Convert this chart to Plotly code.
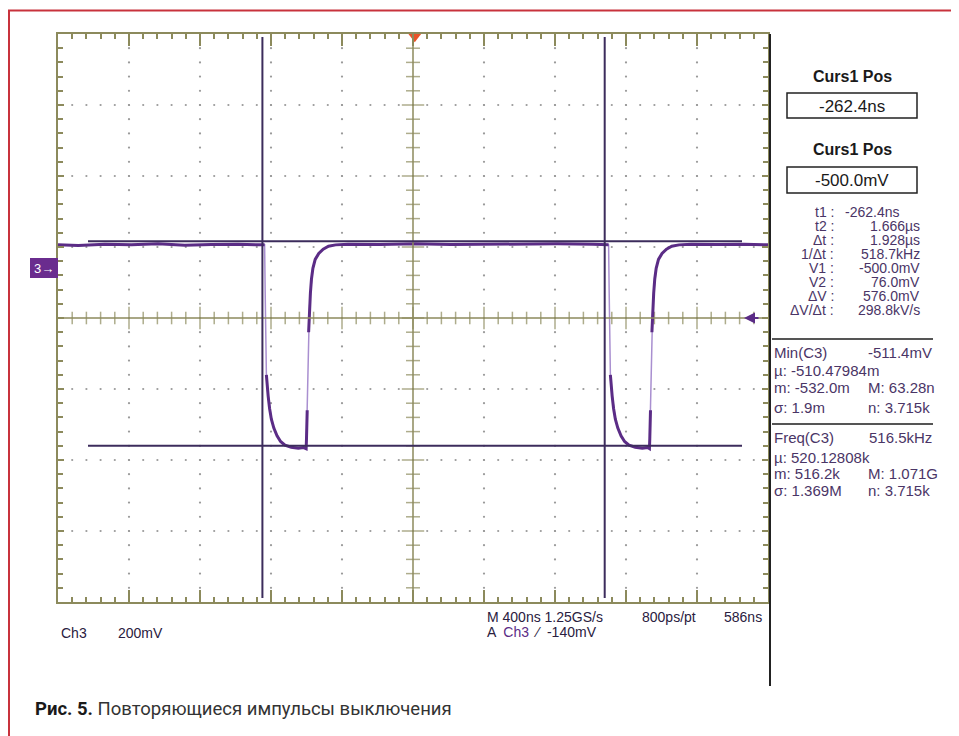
import plotly.graph_objects as go

# ---------------- data ----------------
# Ch3 waveform: time in ns, voltage in mV
t_ns = [-1414, -1300, -1150, -1000, -850, -700, -550, -400, -300, -252,
        -250, -247, -244, -240, -236, -230, -222, -212, -198, -180, -160, -135, -100, -60, -30, -16,
        -14, -10, -6, -2, 2, 8, 14, 22, 35, 55, 80, 110, 150, 220,
        400, 600, 800, 1000, 1200, 1400, 1600, 1685,
        1688, 1691, 1694, 1698, 1702, 1708, 1716, 1726, 1740, 1758, 1778, 1803, 1838, 1878, 1908, 1918,
        1920, 1924, 1928, 1932, 1936, 1942, 1948, 1956, 1969, 1989, 2014, 2044, 2084, 2154,
        2300, 2450, 2586]
v_mv = [66, 64, 68, 66, 69, 65, 67, 68, 66, 67,
        66, -60, -200, -300, -335, -360, -395, -425, -450, -472, -488, -498, -504, -507, -505, -508,
        -480, -400, -280, -180, -120, -70, -30, 0, 25, 42, 54, 62, 66, 68,
        67, 69, 67, 68, 67, 69, 68, 67,
        66, -60, -200, -300, -335, -360, -395, -425, -450, -472, -488, -498, -504, -507, -505, -508,
        -480, -400, -280, -180, -120, -70, -30, 0, 25, 42, 54, 62, 66, 68,
        67, 68, 66]

# cursors
T1_NS, T2_NS = -262.4, 1666.0
V1_MV, V2_MV = -500.0, 76.0

# screen settings
X_RANGE = [-1414, 2586]      # 400 ns/div, 10 div, position 586 ns
Y_RANGE = [-940, 660]        # 200 mV/div, 8 div, offset -140 mV
X_DIV, Y_DIV = 400, 200
TRIG_POS_NS = 596

curs_panel = ["-262.4ns", "-500.0mV"]
readout_labels = ["t1 :", "t2 :", "Δt :", "1/Δt :", "V1 :", "V2 :", "ΔV :", "ΔV/Δt :"]
readout_values = ["-262.4ns", "1.666µs", "1.928µs", "518.7kHz", "-500.0mV", "76.0mV", "576.0mV", "298.8kV/s"]
min_stats = [["Min(C3)", "-511.4mV"], ["µ: -510.47984m", ""], ["m: -532.0m", "M: 63.28n"], ["σ: 1.9m", "n: 3.715k"]]
freq_stats = [["Freq(C3)", "516.5kHz"], ["µ: 520.12808k", ""], ["m: 516.2k", "M: 1.071G"], ["σ: 1.369M", "n: 3.715k"]]

# ---------------- geometry helpers (screen pixels of the page) ----------------
OFF = 8                      # default page margin of the html body
FIG_W, FIG_H = 959 - OFF, 736 - OFF
L, R, T, B = 58, 768, 34, 602
W, H = R - L, B - T


def px(x):
    return (x - L) / W


def py(y):
    return (B - y) / H


OLIVE = "#8c8a5c"
PURPLE = "#5b2c86"
TXT = "#4a3566"
SCOPE_FONT = "Liberation Sans Narrow, Arial Narrow, Liberation Sans, Arial, sans-serif"

fig = go.Figure()

# ---------------- graticule dots ----------------
gx, gy = [], []
xc = (X_RANGE[0] + X_RANGE[1]) / 2
yc = (Y_RANGE[0] + Y_RANGE[1]) / 2
for k in range(1, 10):
    xv = X_RANGE[0] + k * X_DIV
    if k == 5:
        continue
    y = Y_RANGE[0] + Y_DIV / 5
    while y < Y_RANGE[1] - 1:
        gx.append(xv); gy.append(y)
        y += Y_DIV / 5
for k in range(1, 8):
    yv = Y_RANGE[0] + k * Y_DIV
    if k == 4:
        continue
    x = X_RANGE[0] + X_DIV / 5
    while x < X_RANGE[1] - 1:
        gx.append(x); gy.append(yv)
        x += X_DIV / 5
fig.add_trace(go.Scatter(x=gx, y=gy, mode="markers",
                         marker=dict(size=2.2, color="#9a9a9a"), hoverinfo="skip", showlegend=False))

# center axes ticks
hx, hy, hs = [], [], []
x = X_RANGE[0] + X_DIV / 5
i = 1
while x < X_RANGE[1] - 1:
    hx.append(x); hy.append(yc); hs.append(16 if i % 5 == 0 else 9)
    x += X_DIV / 5; i += 1
fig.add_trace(go.Scatter(x=hx, y=hy, mode="markers",
                         marker=dict(symbol="line-ns", size=hs, line=dict(color=OLIVE, width=1.5)),
                         hoverinfo="skip", showlegend=False))
vx, vy, vs = [], [], []
y = Y_RANGE[0] + Y_DIV / 5
i = 1
while y < Y_RANGE[1] - 1:
    vx.append(xc); vy.append(y); vs.append(16 if i % 5 == 0 else 10)
    y += Y_DIV / 5; i += 1
fig.add_trace(go.Scatter(x=vx, y=vy, mode="markers",
                         marker=dict(symbol="line-ew", size=vs, line=dict(color=OLIVE, width=1.5)),
                         hoverinfo="skip", showlegend=False))

# ---------------- waveform ----------------
fig.add_trace(go.Scatter(x=t_ns, y=v_mv, mode="lines", line=dict(color="#a98fd0", width=1.5),
                         hoverinfo="skip", showlegend=False))
dx, dy = [t_ns[0]], [v_mv[0]]
for j in range(1, len(t_ns)):
    slope = abs(v_mv[j] - v_mv[j - 1]) / max(t_ns[j] - t_ns[j - 1], 1e-9)
    if slope > 20:
        dx.append(None); dy.append(None)
    dx.append(t_ns[j]); dy.append(v_mv[j])
fig.add_trace(go.Scatter(x=dx, y=dy, mode="lines", line=dict(color=PURPLE, width=3),
                         hoverinfo="skip", showlegend=False))

# trigger position marker
fig.add_trace(go.Scatter(x=[TRIG_POS_NS], y=[Y_RANGE[1] - 8], mode="markers", cliponaxis=False,
                         marker=dict(symbol="triangle-down", size=11, color="#e8542a"),
                         hoverinfo="skip", showlegend=False))

shapes = []
shapes.append(dict(type="line", xref="x", yref="y", x0=X_RANGE[0], x1=X_RANGE[1], y0=yc, y1=yc,
                   line=dict(color=OLIVE, width=1.5)))
shapes.append(dict(type="line", xref="x", yref="y", x0=xc, x1=xc, y0=Y_RANGE[0], y1=Y_RANGE[1],
                   line=dict(color=OLIVE, width=1.5)))
CUR = "#3c2c5c"
for tc in (T1_NS, T2_NS):
    shapes.append(dict(type="line", xref="x", yref="paper", x0=tc, x1=tc, y0=py(598), y1=py(37),
                       line=dict(color=CUR, width=2)))
for vc in (V1_MV, V2_MV):
    shapes.append(dict(type="line", xref="paper", yref="y", x0=px(88), x1=px(742), y0=vc, y1=vc,
                       line=dict(color=CUR, width=2)))
shapes.append(dict(type="line", xref="paper", yref="paper", x0=px(770), x1=px(770), y0=py(34), y1=py(686),
                   line=dict(color="#222222", width=2)))
for (y0, y1) in ((93, 118), (167, 193)):
    shapes.append(dict(type="rect", xref="paper", yref="paper", x0=px(787), x1=px(917), y0=py(y1), y1=py(y0),
                       line=dict(color="#222222", width=1.5)))
for ys in (339, 424):
    shapes.append(dict(type="line", xref="paper", yref="paper", x0=px(772), x1=px(933), y0=py(ys), y1=py(ys),
                       line=dict(color="#555555", width=2)))
shapes.append(dict(type="rect", xref="paper", yref="paper", x0=px(30), x1=px(58), y0=py(278), y1=py(258),
                   fillcolor="#6a2c8e", line=dict(width=0)))
# red frame of the figure (open at the bottom of the page)
RED = "#c8323c"
shapes.append(dict(type="rect", xref="paper", yref="paper", x0=px(9), x1=px(954), y0=py(760), y1=py(10.5),
                   line=dict(color=RED, width=2), fillcolor="rgba(0,0,0,0)", layer="above"))

ann = []


def text(x, y, s, anchor="left", size=13, color=TXT, family=SCOPE_FONT):
    ann.append(dict(xref="paper", yref="paper", x=px(x), y=py(y), text=s, showarrow=False,
                    xanchor=anchor, yanchor="middle", font=dict(size=size, color=color, family=family)))


BOLD_FONT = "Liberation Sans, Arial, sans-serif"
text(852, 76, "<b>Curs1 Pos</b>", "center", 16, "#1a1a1a", BOLD_FONT)
text(852, 106, curs_panel[0], "center", 17, "#1a1a1a")
text(852, 150, "<b>Curs1 Pos</b>", "center", 16, "#1a1a1a", BOLD_FONT)
text(852, 180, curs_panel[1], "center", 17, "#1a1a1a")

ys_read = [212, 226, 240, 254, 268, 282, 296, 310]
for lab, val, yy in zip(readout_labels, readout_values, ys_read):
    text(836, yy, lab, "right", 14)
    if lab == "t1 :":
        text(843, yy, val, "left", 14)
    else:
        text(922, yy, val, "right", 14)

for block, ys in ((min_stats, [352, 370, 388, 407]), (freq_stats, [438, 457, 473, 490])):
    for k, (a, b) in enumerate(block):
        text(772, ys[k], a, "left", 15)
        if b:
            if k == 0:
                text(934, ys[k], b, "right", 15)
            else:
                text(866, ys[k], b, "left", 15)

BOT = "#2a2040"
text(59, 633, "Ch3", "left", 14, BOT)
text(116, 633, "200mV", "left", 14, BOT)
text(485, 617, "M 400ns 1.25GS/s", "left", 14, BOT)
text(485, 632, "A  <span style='color:#5b2c86'>Ch3</span>  ⁄  -140mV", "left", 14, BOT)
text(640, 617, "800ps/pt", "left", 14, BOT)
text(722, 617, "586ns", "left", 14, BOT)

text(44, 268, "3→", "center", 13, "white")
ann.append(dict(xref="paper", yref="paper", x=px(744), y=py(318), ax=16, ay=0, text="",
                showarrow=True, arrowhead=2, arrowsize=1, arrowwidth=2.2, arrowcolor="#5b2c86"))

text(33, 709, "<b><span style='color:#1a1a1a'>Рис. 5.</span></b> Повторяющиеся импульсы выключения",
     "left", 18.5, "#333333", "Liberation Sans Narrow, Arial Narrow, Roboto, Liberation Sans, sans-serif")

axis_common = dict(showgrid=False, zeroline=False, showticklabels=False, ticks="inside",
                   tickcolor=OLIVE, tickwidth=1.5, showline=True, linecolor=OLIVE, linewidth=2,
                   mirror="ticks", fixedrange=True)
fig.update_layout(
    width=FIG_W, height=FIG_H, autosize=False,
    margin=dict(l=L - OFF, r=FIG_W - (R - OFF), t=T - OFF, b=FIG_H - (B - OFF)),
    paper_bgcolor="white", plot_bgcolor="white",
    xaxis=dict(range=X_RANGE, tick0=X_RANGE[0], dtick=X_DIV, ticklen=12,
               minor=dict(dtick=X_DIV / 5, tick0=X_RANGE[0], ticklen=5, ticks="inside", tickcolor=OLIVE),
               **axis_common),
    yaxis=dict(range=Y_RANGE, tick0=Y_RANGE[0], dtick=Y_DIV, ticklen=6,
               minor=dict(dtick=Y_DIV / 5, tick0=Y_RANGE[0], ticklen=5, ticks="inside", tickcolor=OLIVE),
               **axis_common),
    shapes=shapes, annotations=ann, showlegend=False,
)
fig.write_html("out.html")
